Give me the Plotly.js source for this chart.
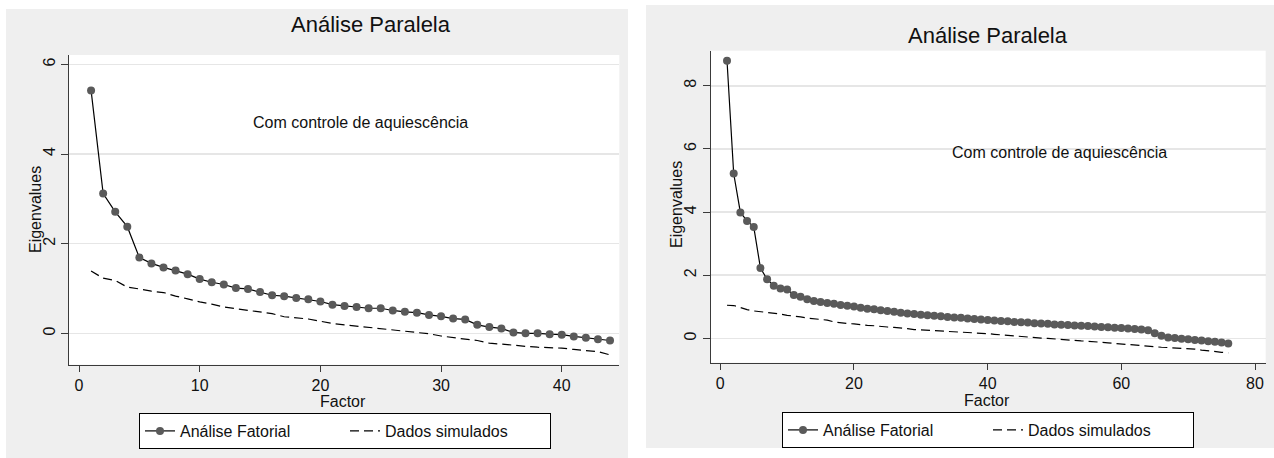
<!DOCTYPE html>
<html>
<head>
<meta charset="utf-8">
<script src="https://cdn.plot.ly/plotly-3.0.1.min.js"></script>
<style>html,body{margin:0;padding:0;background:#fff;}#chart{width:1274px;height:458px;}</style>
</head>
<body>
<div id="chart"></div>
<script>
// ---- Data ----
const titleText = "Análise Paralela";
const noteText = "Com controle de aquiescência";
const xTitle = "Factor";
const yTitle = "Eigenvalues";
const seriesNames = ["Análise Fatorial", "Dados simulados"];

const leftFactors = [1,2,3,4,5,6,7,8,9,10,11,12,13,14,15,16,17,18,19,20,21,22,23,24,25,26,27,28,29,30,31,32,33,34,35,36,37,38,39,40,41,42,43,44];
const leftObserved = [5.42,3.12,2.71,2.38,1.69,1.56,1.47,1.40,1.32,1.21,1.14,1.09,1.01,0.99,0.92,0.85,0.83,0.79,0.76,0.71,0.64,0.61,0.59,0.56,0.56,0.51,0.48,0.46,0.41,0.38,0.33,0.31,0.19,0.14,0.11,0.02,0.00,0.00,-0.02,-0.03,-0.07,-0.10,-0.13,-0.16];
const leftSimulated = [1.39,1.23,1.18,1.03,0.99,0.94,0.91,0.83,0.77,0.70,0.65,0.59,0.55,0.51,0.47,0.44,0.37,0.34,0.32,0.27,0.22,0.19,0.16,0.13,0.10,0.07,0.04,0.01,-0.01,-0.06,-0.10,-0.13,-0.16,-0.22,-0.24,-0.27,-0.29,-0.31,-0.32,-0.33,-0.36,-0.39,-0.41,-0.48];

const rightFactors = [1,2,3,4,5,6,7,8,9,10,11,12,13,14,15,16,17,18,19,20,21,22,23,24,25,26,27,28,29,30,31,32,33,34,35,36,37,38,39,40,41,42,43,44,45,46,47,48,49,50,51,52,53,54,55,56,57,58,59,60,61,62,63,64,65,66,67,68,69,70,71,72,73,74,75,76];
const rightObserved = [8.79,5.22,3.99,3.72,3.53,2.23,1.87,1.67,1.58,1.55,1.37,1.32,1.24,1.18,1.15,1.12,1.10,1.06,1.03,1.01,0.97,0.94,0.92,0.89,0.87,0.84,0.81,0.79,0.77,0.75,0.73,0.72,0.70,0.68,0.66,0.65,0.63,0.61,0.60,0.58,0.57,0.55,0.54,0.52,0.51,0.50,0.48,0.47,0.46,0.44,0.43,0.42,0.41,0.40,0.39,0.38,0.36,0.35,0.34,0.33,0.31,0.30,0.28,0.26,0.16,0.08,0.03,0.01,-0.01,-0.03,-0.05,-0.07,-0.09,-0.11,-0.13,-0.16];
const rightSimulated = [1.05,1.04,0.98,0.91,0.87,0.85,0.82,0.79,0.77,0.73,0.71,0.68,0.64,0.62,0.60,0.58,0.52,0.49,0.47,0.46,0.43,0.41,0.40,0.37,0.36,0.35,0.34,0.31,0.28,0.27,0.25,0.23,0.22,0.21,0.20,0.19,0.18,0.17,0.16,0.15,0.13,0.11,0.09,0.07,0.05,0.04,0.03,0.01,0.00,-0.02,-0.03,-0.05,-0.06,-0.08,-0.09,-0.10,-0.12,-0.14,-0.16,-0.18,-0.19,-0.21,-0.22,-0.24,-0.26,-0.28,-0.29,-0.30,-0.31,-0.32,-0.34,-0.37,-0.40,-0.42,-0.44,-0.46];

const leftXTicks = [0,10,20,30,40];
const leftYTicks = [0,2,4,6];
const rightXTicks = [0,20,40,60,80];
const rightYTicks = [0,2,4,6,8];

// ---- Styles ----
const W = 1274, H = 458;
const FONT = "Liberation Sans, Arial, Helvetica, sans-serif";
const markerColor = "#5a5a5a";
const axisColor = "#3a3a3a";
const gridColor = "#e6e6e6";
const panelGray = "#efefef";

function px(x){ return x / W; }
function py(y){ return 1 - y / H; }

function obsTrace(x, y, xa, ya, leg){
  return {x:x, y:y, xaxis:xa, yaxis:ya, type:'scatter', mode:'lines+markers',
    name:seriesNames[0], legend:leg,
    line:{color:'#000', width:1.2},
    marker:{color:markerColor, size:8, line:{width:0}}};
}
function simTrace(x, y, xa, ya, leg){
  return {x:x, y:y, xaxis:xa, yaxis:ya, type:'scatter', mode:'lines',
    name:seriesNames[1], legend:leg,
    line:{color:'#000', width:1.2, dash:'9px,5px'}};
}

const data = [
  obsTrace(leftFactors, leftObserved, 'x', 'y', 'legend'),
  simTrace(leftFactors, leftSimulated, 'x', 'y', 'legend'),
  obsTrace(rightFactors, rightObserved, 'x2', 'y2', 'legend2'),
  simTrace(rightFactors, rightSimulated, 'x2', 'y2', 'legend2')
];

function xAxis(domain, range, ticks){
  return {domain:domain, range:range, tickmode:'array', tickvals:ticks, ticktext:ticks.map(String),
    showgrid:false, zeroline:false, showline:true, linecolor:axisColor, linewidth:1,
    ticks:'outside', ticklen:6, tickcolor:axisColor, tickwidth:1,
    tickfont:{family:FONT, size:16, color:'#111'}, fixedrange:true};
}
function yAxis(domain, range, ticks, anchor){
  return {domain:domain, range:range, anchor:anchor, tickmode:'array', tickvals:ticks, ticktext:ticks.map(String),
    showgrid:true, gridcolor:gridColor, gridwidth:1.5, zeroline:false, showline:true, linecolor:axisColor, linewidth:1,
    ticks:'outside', ticklen:7, tickcolor:axisColor, tickwidth:1, tickangle:-90,
    tickfont:{family:FONT, size:16, color:'#111'}, fixedrange:true};
}

function legendCfg(cx, cy){
  return {orientation:'h', x:px(cx), y:py(cy), xanchor:'center', yanchor:'middle',
    bgcolor:'#fff', bordercolor:'#000', borderwidth:1,
    font:{family:FONT, size:16, color:'#111'}, entrywidth:160, itemclick:false, itemdoubleclick:false};
}

function textAnn(x, y, text, size, opts){
  return Object.assign({xref:'paper', yref:'paper', x:px(x), y:py(y), text:text, showarrow:false,
    xanchor:'center', yanchor:'middle', font:{family:FONT, size:size, color:'#111'}}, opts||{});
}

const layout = {
  width:W, height:H, autosize:false,
  margin:{l:0, r:0, t:0, b:0, pad:0},
  paper_bgcolor:panelGray, plot_bgcolor:'#fff',
  showlegend:true,
  xaxis: Object.assign(xAxis([px(69), px(619.3)], [-0.83, 44.77], leftXTicks), {anchor:'y'}),
  yaxis: yAxis([py(364.7), py(55)], [-0.70, 6.21], leftYTicks, 'x'),
  xaxis2: Object.assign(xAxis([px(710.7), px(1265.7)], [-1.44, 81.6], rightXTicks), {anchor:'y2'}),
  yaxis2: yAxis([py(362.7), py(50.7)], [-0.77, 9.11], rightYTicks, 'x2'),
  legend: legendCfg(345, 431),
  legend2: legendCfg(988, 430),
  shapes: [
    // white surroundings of the two grey panels
    {type:'rect', xref:'paper', yref:'paper', x0:0, x1:px(6), y0:0, y1:1, fillcolor:'#fff', line:{width:0}, layer:'below'},
    {type:'rect', xref:'paper', yref:'paper', x0:px(628), x1:px(646), y0:0, y1:1, fillcolor:'#fff', line:{width:0}, layer:'below'},
    {type:'rect', xref:'paper', yref:'paper', x0:0, x1:px(628), y0:py(9), y1:1, fillcolor:'#fff', line:{width:0}, layer:'below'},
    {type:'rect', xref:'paper', yref:'paper', x0:px(646), x1:1, y0:py(5), y1:1, fillcolor:'#fff', line:{width:0}, layer:'below'},
    {type:'rect', xref:'paper', yref:'paper', x0:px(646), x1:1, y0:0, y1:py(448), fillcolor:'#fff', line:{width:0}, layer:'below'}
  ],
  annotations: [
    textAnn(371, 25, titleText, 22),
    textAnn(988, 36, titleText, 22),
    textAnn(343, 401, xTitle, 16),
    textAnn(987, 400, xTitle, 16),
    textAnn(35, 210, yTitle, 16, {textangle:-90}),
    textAnn(676, 205, yTitle, 16, {textangle:-90}),
    {xref:'x', yref:'y', x:23.3, y:4.7, text:noteText, showarrow:false, xanchor:'center', yanchor:'middle',
      font:{family:FONT, size:16, color:'#111'}},
    {xref:'x2', yref:'y2', x:50.7, y:5.9, text:noteText, showarrow:false, xanchor:'center', yanchor:'middle',
      font:{family:FONT, size:16, color:'#111'}}
  ]
};

Plotly.newPlot('chart', data, layout, {staticPlot:true, displayModeBar:false});
</script>
</body>
</html>
